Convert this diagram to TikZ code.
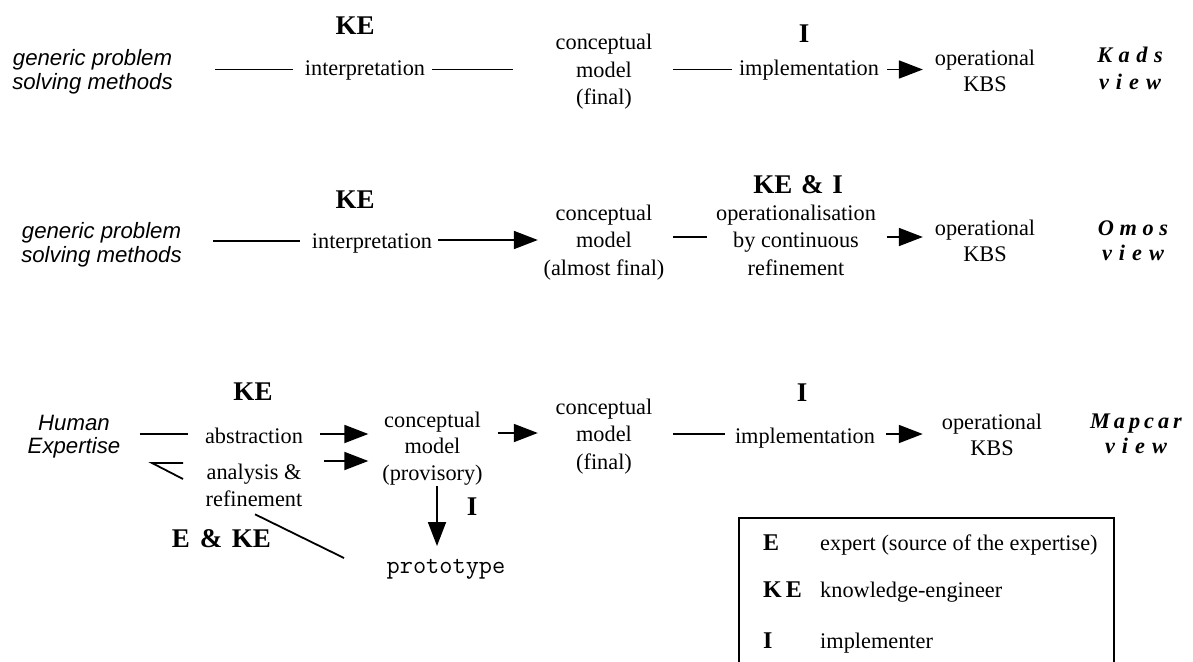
\documentclass[tikz,border=0pt]{standalone}
\usepackage{fontspec}
\setmainfont{Liberation Serif}
\newfontfamily\hsans{Liberation Sans}
\usetikzlibrary{arrows.meta}
\newcommand\mlines[1]{\begin{tabular}[t]{@{}c@{}}#1\end{tabular}}
\begin{document}
\begin{tikzpicture}[x=1pt,y=-1pt,
 txt/.style={inner sep=0pt, anchor=base, font=\fontsize{22.3}{27.5}\selectfont},
 optxt/.style={inner sep=0pt, anchor=base, font=\fontsize{22.3}{26}\selectfont},
 gtxt/.style={inner sep=0pt, anchor=base, font=\hsans\itshape\fontsize{22.2}{24}\selectfont},
 who/.style={inner sep=0pt, anchor=base, font=\bfseries\fontsize{27}{30}\selectfont},
 viewlbl/.style={inner sep=0pt, anchor=base, font=\bfseries\itshape\fontsize{22.3}{26.5}\selectfont},
 legkey/.style={inner sep=0pt, anchor=base west, font=\bfseries\fontsize{24}{28}\selectfont},
 legtxt/.style={inner sep=0pt, anchor=base west, font=\fontsize{22.3}{27.5}\selectfont},
 ln/.style={line width=1.8pt},
 ar/.style={line width=1.8pt, -{Triangle[length=24pt,width=18pt]}},
]
\useasboundingbox (0,0) rectangle (1193,661);

% ---------- Row 1 : Kads ----------
\node[who] (ke1) at (355,35) {KE};
\node[gtxt] (gen1) at (92.5,66) {\mlines{generic problem\\solving methods}};
\node[txt] (int1) at (365,75) {interpretation};
\node[txt] (cm1) at (604,50) {\mlines{conceptual\\model\\(final)}};
\node[who] (i1) at (804,42) {I};
\node[txt] (imp1) at (809,75) {implementation};
\node[optxt] (op1) at (985,65) {\mlines{operational\\KBS}};
\node[viewlbl] (v1) at (1130,63) {\mlines{K\kern6.5pt a\kern6.5pt d\kern6.5pt s\\v\kern7pt i\kern7pt e\kern7pt w}};
\coordinate (y1) at (0,69.5);
\draw[ln, shorten <=42.3pt, shorten >=11.9pt] (gen1.east |- y1) -- (int1.west |- y1);
\draw[ln, shorten <=6.9pt, shorten >=42.7pt] (int1.east |- y1) -- (cm1.west |- y1);
\draw[ln, shorten <=20.7pt, shorten >=7pt] (cm1.east |- y1) -- (imp1.west |- y1);
\draw[ar, shorten <=8pt, shorten >=11.8pt] (imp1.east |- y1) -- (op1.west |- y1);

% ---------- Row 2 : Omos ----------
\node[who] (ke2) at (355,208) {KE};
\node[gtxt] (gen2) at (101.5,238) {\mlines{generic problem\\solving methods}};
\node[txt] (int2) at (372,248) {interpretation};
\node[txt] (cm2) at (604,220) {\mlines{conceptual\\model\\(almost final)}};
\node[who] (kei) at (798,193) {KE\kern2pt{} \&\kern2pt{} I};
\node[txt] (opz) at (796,220) {\mlines{operationalisation\\by continuous\\refinement}};
\node[optxt] (op2) at (985,235) {\mlines{operational\\KBS}};
\node[viewlbl, font=\bfseries\itshape\fontsize{22.3}{25}\selectfont] (v2) at (1133,235) {\mlines{O\kern5.6pt m\kern5.6pt o\kern5.6pt s\\v\kern7pt i\kern7pt e\kern7pt w}};
\coordinate (y2a) at (0,241);
\coordinate (y2b) at (0,240);
\coordinate (y2c) at (0,237);
\draw[ln, shorten <=31.3pt, shorten >=11.9pt] (gen2.east |- y2a) -- (int2.west |- y2a);
\draw[ar, shorten <=5.9pt, shorten >=5.6pt] (int2.east |- y2b) -- (cm2.west |- y2b);
\draw[ln, shorten <=8.6pt, shorten >=9.1pt] (cm2.east |- y2c) -- (opz.west |- y2c);
\draw[ar, shorten <=11.1pt, shorten >=11.8pt] (opz.east |- y2c) -- (op2.west |- y2c);

% ---------- Row 3 : Mapcar ----------
\node[who] (ke3) at (253,400) {KE};
\node[gtxt, font=\hsans\itshape\fontsize{22.2}{23}\selectfont] (hum) at (74,430) {\mlines{Human\\Expertise}};
\node[txt] (abs) at (254,443) {abstraction};
\node[txt, font=\fontsize{22.3}{27}\selectfont] (ana) at (254,479) {\mlines{analysis \&\\refinement}};
\node[who] (eke) at (221.5,547) {E\kern3pt{} \&\kern3pt{} KE};
\node[txt, font=\fontsize{22.3}{26.5}\selectfont] (cmp) at (432.5,427) {\mlines{conceptual\\model\\(provisory)}};
\node[who] (i3b) at (472,515) {I};
\node[txt, font=\ttfamily\fontsize{25.6}{28}\selectfont] (proto) at (446,573) {prototype};
\node[txt] (cm3) at (604,414) {\mlines{conceptual\\model\\(final)}};
\node[who] (i3) at (802,401) {I};
\node[txt] (imp3) at (805,443) {implementation};
\node[optxt] (op3) at (992,429) {\mlines{operational\\KBS}};
\node[viewlbl, font=\bfseries\itshape\fontsize{22.3}{25}\selectfont] (v3) at (1136,428) {\mlines{M\kern4pt a\kern4pt p\kern4pt c\kern4pt a\kern4pt r\\v\kern7pt i\kern7pt e\kern7pt w}};
\coordinate (y3a) at (0,434);
\coordinate (y3b) at (0,461);
\coordinate (y3c) at (0,433);
\draw[ln, shorten <=19.7pt, shorten >=17.1pt] (hum.east |- y3a) -- (abs.west |- y3a);
\draw[ar, shorten <=17.1pt, shorten >=13.8pt] (abs.east |- y3a) -- (cmp.west |- y3a);
\draw[ar, shorten <=21.7pt, shorten >=13.8pt] (ana.east |- y3b) -- (cmp.west |- y3b);
\coordinate (lta) at (183,463);
\coordinate (ltip) at (152,463);
\coordinate (ltb) at (183,479);
\draw[ln] (lta) -- (ltip) -- (ltb);
\coordinate (dend) at (344,558);
\draw[ln] ([xshift=1pt]ana.south) -- (dend);
\draw[ar] ([xshift=4.5pt,yshift=2pt]cmp.south) -- ([xshift=-9pt,yshift=27pt]proto.base);
\draw[ar, shorten <=14.8pt, shorten >=17.7pt] (cmp.east |- y3c) -- (cm3.west |- y3c);
\draw[ln, shorten <=20.7pt, shorten >=10pt] (cm3.east |- y3a) -- (imp3.west |- y3a);
\draw[ar, shorten <=11pt, shorten >=18.9pt] (imp3.east |- y3a) -- (op3.west |- y3a);

% ---------- Legend ----------
\draw[ln] (739,662) -- (739,518) -- (1114,518) -- (1114,662);
\node[legkey] (lk1) at (763,550) {E};
\node[legtxt] (lt1) at (820,550) {expert (source of the expertise)};
\node[legkey] (lk2) at (763,597) {K\kern4pt E};
\node[legtxt] (lt2) at (820,597) {knowledge-engineer};
\node[legkey] (lk3) at (763,648) {I};
\node[legtxt] (lt3) at (820,648) {implementer};
\end{tikzpicture}
\end{document}
